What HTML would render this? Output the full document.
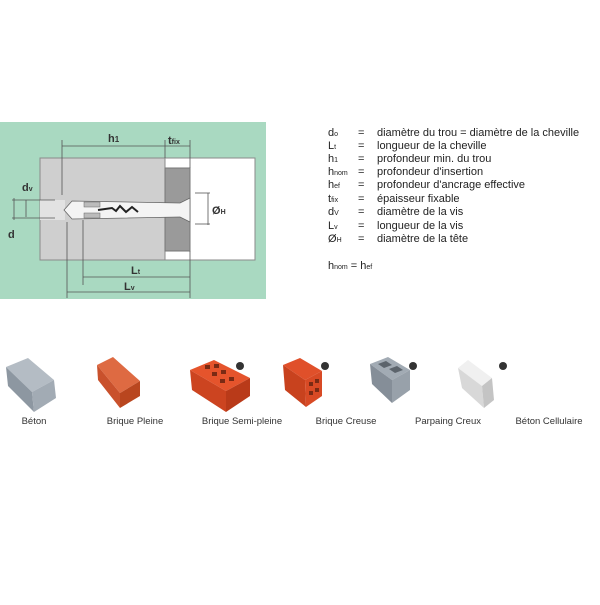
<!DOCTYPE html>
<html><head><meta charset="utf-8"><style>
body{margin:0;background:#fff;width:600px;height:600px;overflow:hidden;font-family:"Liberation Sans",sans-serif}
</style></head><body>
<svg width="600" height="600" viewBox="0 0 600 600" xmlns="http://www.w3.org/2000/svg" font-family="Liberation Sans, sans-serif">
<rect x="0" y="122" width="266" height="177" fill="#a9d9c1"/>
<rect x="40" y="158" width="125" height="102" fill="#cfcfcf" stroke="#8a8a8a" stroke-width="1"/>
<rect x="165" y="158" width="90" height="102" fill="#fff" stroke="#8a8a8a" stroke-width="1"/>
<rect x="165" y="168" width="25" height="83" fill="#9a9a9a" stroke="#777"/>
<rect x="40" y="200" width="25" height="20" fill="#e2e2e2"/>
<polygon points="64,210 72,201 180,203 190,198 190,222 180,217 72,219" fill="#f4f4f4" stroke="#666" stroke-width="0.8"/>
<rect x="84" y="202" width="16" height="5" fill="#bbb" stroke="#666" stroke-width="0.5"/>
<rect x="84" y="213" width="16" height="5" fill="#bbb" stroke="#666" stroke-width="0.5"/>
<path d="M98,210 L112,208 L116,211 L120,206 L126,212 L132,207 L138,212" stroke="#222" stroke-width="2" fill="none"/>
<g stroke="#555" stroke-width="0.8" fill="none">
<line x1="62" y1="140" x2="62" y2="195"/><line x1="165" y1="140" x2="165" y2="158"/><line x1="190" y1="140" x2="190" y2="168"/>
<line x1="62" y1="146" x2="190" y2="146"/>
<line x1="208" y1="193" x2="208" y2="225"/><line x1="195" y1="193" x2="210" y2="193"/><line x1="195" y1="224" x2="210" y2="224"/>
<line x1="14" y1="198" x2="14" y2="220"/><line x1="26" y1="200" x2="26" y2="217"/>
<line x1="12" y1="200" x2="55" y2="200"/><line x1="12" y1="218" x2="55" y2="218"/>
<line x1="67" y1="222" x2="67" y2="298"/><line x1="83" y1="220" x2="83" y2="285"/><line x1="190" y1="251" x2="190" y2="298"/>
<line x1="83" y1="277" x2="190" y2="277"/><line x1="67" y1="292" x2="190" y2="292"/>
</g>
<g font-weight="bold" fill="#333" font-size="11">
<text x="108" y="142">h<tspan font-size="8">1</tspan></text>
<text x="168" y="144">t<tspan font-size="7">fix</tspan></text>
<text x="22" y="191">d<tspan font-size="7">v</tspan></text>
<text x="8" y="238">d</text>
<text x="212" y="214">Ø<tspan font-size="7">H</tspan></text>
<text x="131" y="274">L<tspan font-size="7">t</tspan></text>
<text x="124" y="290">L<tspan font-size="7">v</tspan></text>
</g>
<g font-size="11" fill="#222">
<text x="328" y="136">d<tspan font-size="7">o</tspan></text><text x="358" y="136">=</text><text x="377" y="136">diamètre du trou = diamètre de la cheville</text>
<text x="328" y="149">L<tspan font-size="7">t</tspan></text><text x="358" y="149">=</text><text x="377" y="149">longueur de la cheville</text>
<text x="328" y="162">h<tspan font-size="7">1</tspan></text><text x="358" y="162">=</text><text x="377" y="162">profondeur min. du trou</text>
<text x="328" y="175">h<tspan font-size="7">nom</tspan></text><text x="358" y="175">=</text><text x="377" y="175">profondeur d'insertion</text>
<text x="328" y="188">h<tspan font-size="7">ef</tspan></text><text x="358" y="188">=</text><text x="377" y="188">profondeur d'ancrage effective</text>
<text x="328" y="202">t<tspan font-size="7">fix</tspan></text><text x="358" y="202">=</text><text x="377" y="202">épaisseur fixable</text>
<text x="328" y="215">d<tspan font-size="7">V</tspan></text><text x="358" y="215">=</text><text x="377" y="215">diamètre de la vis</text>
<text x="328" y="229">L<tspan font-size="7">v</tspan></text><text x="358" y="229">=</text><text x="377" y="229">longueur de la vis</text>
<text x="328" y="242">Ø<tspan font-size="7">H</tspan></text><text x="358" y="242">=</text><text x="377" y="242">diamètre de la tête</text>
<text x="328" y="269">h<tspan font-size="7">nom</tspan> = h<tspan font-size="7">ef</tspan></text>
</g>
<!-- Béton -->
<polygon points="6,367 28,358 54,380 32,392" fill="#b4bcc4"/>
<polygon points="6,367 32,392 34,412 8,386" fill="#8d97a1"/>
<polygon points="32,392 54,380 56,398 34,412" fill="#a2abb4"/>
<!-- Brique pleine -->
<polygon points="97,365 113,357 140,381 120,393" fill="#de6a42"/>
<polygon points="97,365 120,393 120,408 98,380" fill="#c9512c"/>
<polygon points="120,393 140,381 140,396 120,408" fill="#b9461f"/>
<!-- Semi-pleine -->
<polygon points="190,370 214,360 250,378 226,391" fill="#e5542c"/>
<g fill="#7a2a14"><rect x="205" y="365" width="5" height="4"/><rect x="214" y="364" width="5" height="4"/><rect x="212" y="372" width="5" height="4"/><rect x="221" y="370" width="5" height="4"/><rect x="220" y="379" width="5" height="4"/><rect x="229" y="377" width="5" height="4"/></g>
<polygon points="190,370 226,391 226,412 192,390" fill="#cc4420"/>
<polygon points="226,391 250,378 250,396 226,412" fill="#b93a19"/>
<!-- Creuse -->
<polygon points="283,365 300,358 322,371 305,380" fill="#e0502a"/>
<polygon points="283,365 305,380 306,407 285,390" fill="#c8421e"/>
<polygon points="305,380 322,371 322,396 306,407" fill="#d84a25"/>
<g fill="#7a2a14"><rect x="309" y="382" width="4" height="4"/><rect x="315" y="379" width="4" height="4"/><rect x="309" y="391" width="4" height="4"/><rect x="315" y="388" width="4" height="4"/></g>
<!-- Parpaing -->
<polygon points="370,364 388,357 410,370 392,380" fill="#a2abb4"/>
<polygon points="378,364 386,361 392,365 384,368" fill="#5c646c"/><polygon points="389,369 397,366 403,370 395,373" fill="#5c646c"/>
<polygon points="370,364 392,380 392,403 372,384" fill="#858e98"/>
<polygon points="392,380 410,370 410,390 392,403" fill="#98a1aa"/>
<!-- Cellulaire -->
<polygon points="458,368 468,360 492,378 482,386" fill="#f0f0f0"/>
<polygon points="458,368 482,386 484,408 462,388" fill="#d8d8d8"/>
<polygon points="482,386 492,378 494,400 484,408" fill="#c4c4c4"/>
<g fill="#333"><circle cx="240" cy="366" r="4"/><circle cx="325" cy="366" r="4"/><circle cx="413" cy="366" r="4"/><circle cx="503" cy="366" r="4"/></g>
<g font-size="9.5" fill="#333" text-anchor="middle">
<text x="34" y="424">Béton</text><text x="135" y="424">Brique Pleine</text><text x="242" y="424">Brique Semi-pleine</text>
<text x="346" y="424">Brique Creuse</text><text x="448" y="424">Parpaing Creux</text><text x="549" y="424">Béton Cellulaire</text>
</g>
</svg>
</body></html>
